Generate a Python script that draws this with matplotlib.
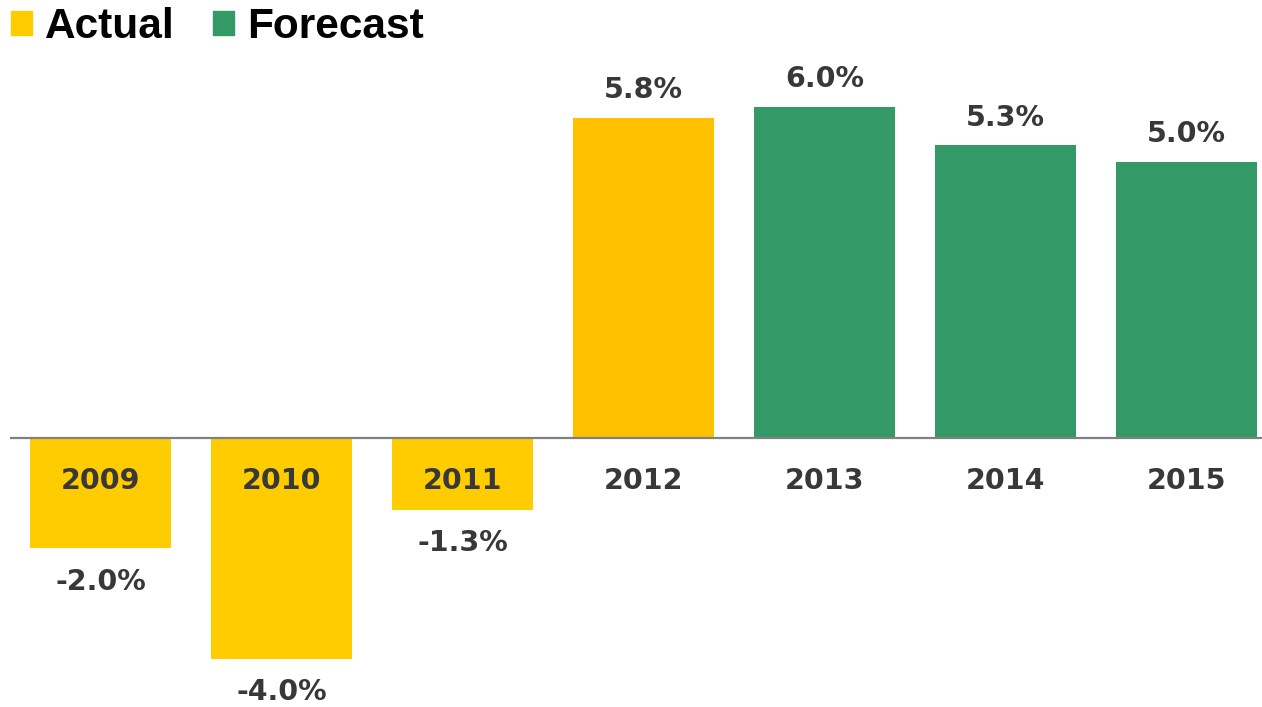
import matplotlib.pyplot as plt
from matplotlib.patches import Patch

years = ["2009", "2010", "2011", "2012", "2013", "2014", "2015"]
growth = [-2.0, -4.0, -1.3, 5.8, 6.0, 5.3, 5.0]
kind = ["Actual", "Actual", "Actual", "Actual", "Forecast", "Forecast", "Forecast"]

ACTUAL_NEG = "#FFCC00"
ACTUAL_POS = "#FFC000"
FORECAST = "#339966"
TEXT = "#383838"

colors = []
for v, k in zip(growth, kind):
    if k == "Forecast":
        colors.append(FORECAST)
    else:
        colors.append(ACTUAL_POS if v >= 0 else ACTUAL_NEG)

fig = plt.figure(figsize=(12.62, 7.07), dpi=100)
ax = fig.add_axes([10 / 1262, 0, 1252 / 1262, 1])

x = list(range(len(years)))
ax.bar(x, growth, width=0.775, color=colors, zorder=2)
ax.axhline(0, color="#808080", linewidth=1.6, zorder=3)

ax.set_xlim(-0.5, -0.5 + 1252 / 181)
ax.set_ylim(-269 / 55.2, 438 / 55.2)

label_font = dict(family="DejaVu Sans", fontweight="bold", color=TEXT, fontsize=20.5)
for xi, v, yr in zip(x, growth, years):
    ax.text(xi, -0.78, yr, ha="center", va="center", **label_font)
    off = 20 if v >= 0 else -24
    ax.annotate(f"{v:.1f}%", (xi, v), xytext=(0, off), textcoords="offset points",
                ha="center", va="center", **label_font)

for s in ax.spines.values():
    s.set_visible(False)
ax.set_xticks([])
ax.set_yticks([])

handles = [Patch(color=ACTUAL_NEG, label="Actual"), Patch(color=FORECAST, label="Forecast")]
leg = fig.legend(handles=handles, loc="upper left", bbox_to_anchor=(11 / 1262, 1 - 7 / 707), ncol=2,
                 frameon=False, borderpad=0, borderaxespad=0,
                 handlelength=0.5, handleheight=0.5, handletextpad=0.3,
                 columnspacing=0.9,
                 prop=dict(family=["Liberation Sans", "DejaVu Sans"], weight="bold", size=30.5))

fig.savefig("out.png", dpi=100)
